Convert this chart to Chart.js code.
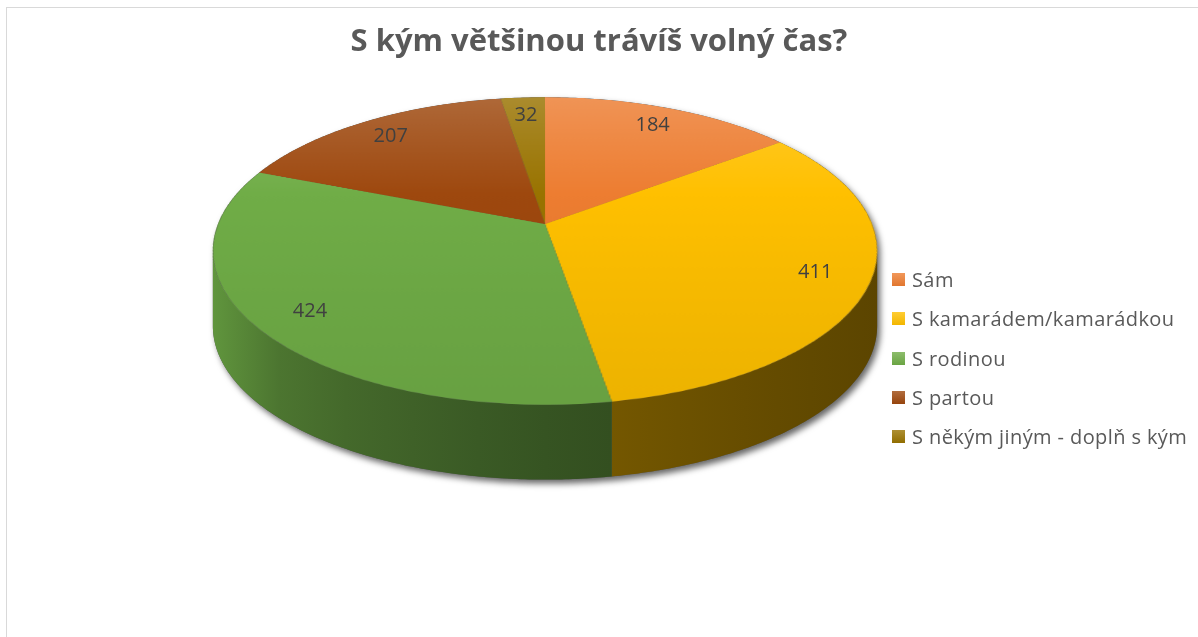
<!DOCTYPE html>
<html lang="cs">
<head>
<meta charset="UTF-8">
<title>S kým většinou trávíš volný čas?</title>
<script src="https://cdn.jsdelivr.net/npm/chart.js@4.4.1/dist/chart.umd.min.js"></script>
<style>
  html, body { margin: 0; padding: 0; background: #fff; overflow: hidden; }
  .frame { position: absolute; left: 6px; top: 7px; width: 1400px; height: 900px; border: 1px solid #d9d9d9; box-sizing: border-box; }
  .chart-wrap { position: absolute; left: 0; top: 0; width: 1198px; height: 637px; }
  .chart-key { position: absolute; left: 892px; top: 260px; font-family: "Open Sans", sans-serif; font-size: 20px; color: #595959; letter-spacing: 0.4px; }
  .chart-key span { display: flex; align-items: center; height: 39.3px; white-space: nowrap; }
  .chart-key i { display: inline-block; width: 13px; height: 13px; margin-right: 7px; }
</style>
</head>
<body>
<div class="frame"></div>
<div class="chart-wrap"><canvas id="chart"></canvas></div>
<div class="chart-key" data-role="key"></div>

<script>
  const title = 'S kým většinou trávíš volný čas?';
  const labels = ['Sám', 'S kamarádem/kamarádkou', 'S rodinou', 'S partou', 'S někým jiným - doplň s kým'];
  const counts = [184, 411, 424, 207, 32];
  const colors = ['#ED7D31', '#FFC000', '#70AD47', '#9E480E', '#997300'];

  // tilted pie seen in perspective (screen px): centre, half width, vertical
  // scale, perspective strength, wall height
  const view = { cx: 545, cy: 224, a: 327, b: 149, k: 0.175, depth: 75, labelAt: 0.84 };

  function rgb(hex) {
    return [1, 3, 5].map((i) => parseInt(hex.slice(i, i + 2), 16));
  }
  function shade(hex, f) {
    return 'rgb(' + rgb(hex).map((v) => Math.round(Math.min(255, v * f))).join(',') + ')';
  }
  function tint(hex, f) {
    return 'rgb(' + rgb(hex).map((v) => Math.round(v + (255 - v) * f)).join(',') + ')';
  }

  // point on the flat unit disc -> screen
  function project(u, v) {
    const w = 1 - view.k * v;
    return [view.cx + view.a * u / w, view.cy + view.b * v / w];
  }
  function rimPath(ctx, from, to, dy, first) {
    const n = Math.max(2, Math.ceil(Math.abs(to - from) / 0.01));
    for (let j = 0; j <= n; j++) {
      const t = from + (to - from) * j / n;
      const p = project(Math.cos(t), Math.sin(t));
      if (first && j === 0) ctx.moveTo(p[0], p[1] + dy);
      else ctx.lineTo(p[0], p[1] + dy);
    }
  }

  // legend
  const key = document.querySelector('[data-role="key"]');
  labels.forEach((label, i) => {
    const row = document.createElement('span');
    const box = document.createElement('i');
    box.style.background = `linear-gradient(${tint(colors[i], 0.2)}, ${shade(colors[i], 0.95)})`;
    row.appendChild(box);
    row.appendChild(document.createTextNode(label));
    key.appendChild(row);
  });

  // takes the flat pie Chart.js drew and lays it down in perspective,
  // with side walls, shadow and value labels
  const pie3d = {
    id: 'pie3d',
    afterDatasetsDraw(chart) {
      const arcs = chart.getDatasetMeta(0).data;
      const { x, y, outerRadius: r } = arcs[0];
      const ctx = chart.ctx;
      const half = Math.ceil(r) + 1;
      const sx0 = Math.round(x) - half;
      const sy0 = Math.round(y) - half;

      const flat = document.createElement('canvas');
      flat.width = flat.height = half * 2;
      flat.getContext('2d').drawImage(chart.canvas, sx0, sy0, half * 2, half * 2, 0, 0, half * 2, half * 2);
      ctx.save();
      ctx.setTransform(1, 0, 0, 1, 0, 0);
      ctx.clearRect(sx0, sy0, half * 2, half * 2);

      const edge = Math.asin(view.k);
      const d = view.depth;

      // drop shadow under the whole body
      ctx.save();
      ctx.shadowColor = 'rgba(0,0,0,0.6)';
      ctx.shadowBlur = 6;
      ctx.shadowOffsetX = 3;
      ctx.shadowOffsetY = 4;
      ctx.beginPath();
      rimPath(ctx, Math.PI - edge, 2 * Math.PI + edge, 0, true);
      rimPath(ctx, edge, Math.PI - edge, d, false);
      ctx.closePath();
      ctx.fillStyle = '#555';
      ctx.fill();
      ctx.restore();

      // side walls
      const left = view.cx - view.a / Math.sqrt(1 - view.k * view.k);
      const right = 2 * view.cx - left;
      arcs.forEach((arc, i) => {
        const g = ctx.createLinearGradient(left, 0, right, 0);
        for (let s = 0; s <= 10; s++) {
          const t = s / 10;
          const phi = Math.acos(1 - 2 * t);
          const bright = 0.36 + 0.5 * Math.pow(1 - phi / Math.PI, 2);
          g.addColorStop(t, shade(colors[i], bright));
        }
        [0, 2 * Math.PI].forEach((base) => {
          const lo = Math.max(arc.startAngle, base + edge);
          const hi = Math.min(arc.endAngle, base + Math.PI - edge);
          if (hi <= lo) return;
          ctx.beginPath();
          rimPath(ctx, lo, hi, 0, true);
          rimPath(ctx, hi, lo, d, false);
          ctx.closePath();
          ctx.fillStyle = g;
          ctx.fill();
        });
      });

      // top face, row by row
      ctx.imageSmoothingEnabled = true;
      const top = Math.floor(view.cy - view.b / (1 + view.k));
      const bottom = Math.ceil(view.cy + view.b / (1 - view.k));
      for (let row = top; row <= bottom; row++) {
        const dv = row + 0.5 - view.cy;
        const v = dv / (view.b + view.k * dv);
        if (Math.abs(v) > 1) continue;
        const w = 1 - view.k * v;
        const srcY = half + v * r;
        const span = (view.a / w) * (half / r);
        ctx.drawImage(flat, 0, srcY - 0.5, half * 2, 1, view.cx - span, row, span * 2, 1);
      }

      // value labels
      ctx.font = '20px "Open Sans"';
      ctx.fillStyle = '#404040';
      ctx.textAlign = 'center';
      ctx.textBaseline = 'middle';
      arcs.forEach((arc, i) => {
        const mid = (arc.startAngle + arc.endAngle) / 2;
        const p = project(Math.cos(mid) * view.labelAt, Math.sin(mid) * view.labelAt);
        ctx.fillText(String(counts[i]), p[0], p[1]);
      });
      ctx.restore();
    }
  };

  function topFace(c) {
    const area = c.chart.chartArea;
    const col = colors[c.dataIndex];
    if (!area) return col;
    const g = c.chart.ctx.createLinearGradient(0, area.top, 0, area.bottom);
    g.addColorStop(0, tint(col, 0.18));
    g.addColorStop(0.4, col);
    g.addColorStop(1, shade(col, 0.93));
    return g;
  }

  new Chart(document.getElementById('chart'), {
    type: 'pie',
    data: {
      labels: labels,
      datasets: [{
        data: counts,
        backgroundColor: topFace,
        borderWidth: 0,
        hoverOffset: 0,
        clip: false
      }]
    },
    options: {
      responsive: true,
      maintainAspectRatio: false,
      animation: false,
      devicePixelRatio: 1,
      layout: { padding: 0 },
      plugins: {
        legend: { display: false },
        tooltip: { enabled: false },
        title: {
          display: true,
          text: title,
          color: '#595959',
          font: { family: 'Open Sans', size: 31, weight: 'bold' },
          padding: { top: 24, bottom: 10 }
        }
      }
    },
    plugins: [pie3d]
  });
</script>
</body>
</html>
